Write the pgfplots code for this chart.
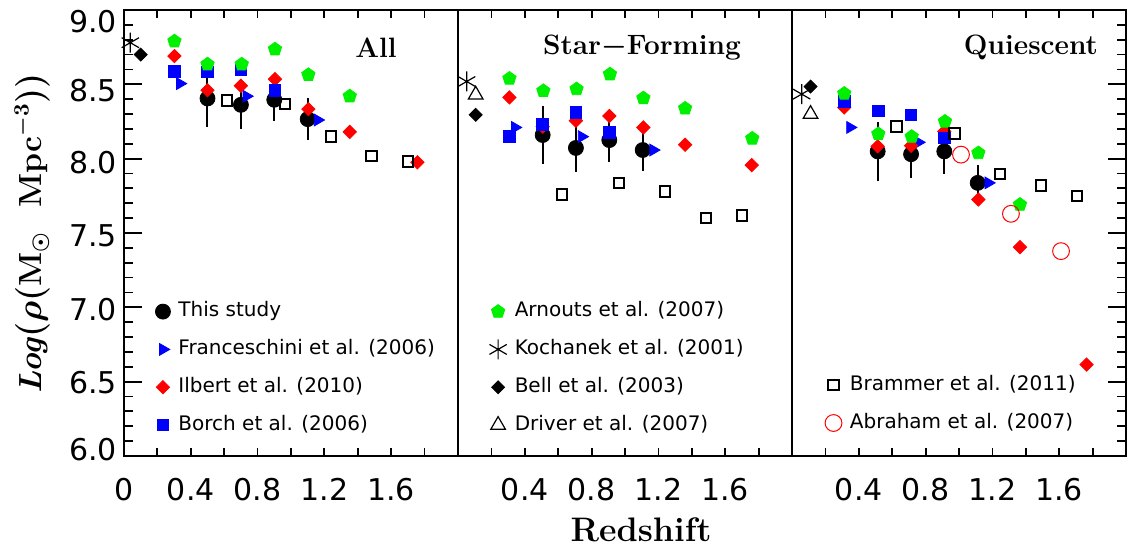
\documentclass[border=0pt]{standalone}
\usepackage{fontspec}
\usepackage{amsmath}
\usepackage{pgfplots}
\pgfplotsset{compat=1.18}
\newfontfamily\dvs{DejaVu Sans}
\definecolor{mygreen}{RGB}{0,240,0}
\definecolor{myred}{RGB}{255,0,0}
\definecolor{myblue}{RGB}{0,0,255}
\newcommand\yl[2]{\raisebox{#1}[\height][\depth]{#2}}
\pgfplotsset{
  panel/.style={
    scale only axis, width=167pt, height=223pt,
    xmin=0, xmax=2.0, ymin=6, ymax=9,
    axis line style={line width=1pt},
    tick style={line width=0.9pt, black},
    tick align=inside,
    xtick={0,0.2,0.4,0.6,0.8,1.0,1.2,1.4,1.6,1.8,2.0},
    xticklabels={,,0.4,,0.8,,1.2,,1.6,,},
    xtick pos=both,
    ytick={6,6.5,7,7.5,8,8.5,9},
    yticklabels={\yl{3pt}{6.0},\yl{-0.5pt}{6.5},\yl{-1pt}{7.0},\yl{-1.5pt}{7.5},\yl{-2pt}{8.0},\yl{-3pt}{8.5},\yl{-6pt}{9.0}},
    minor y tick num=4,
    major tick length=9pt, minor tick length=4.5pt,
    xtick style={/pgfplots/major tick length=4pt},
    xticklabel style={font=\dvs\fontsize{15}{15}\selectfont, yshift=-7.5pt},
    yticklabel style={font=\dvs\fontsize{15}{15}\selectfont},
    clip=false,
    legend style={draw=none, fill=none, anchor=north west,
      font=\dvs\fontsize{10}{12}\selectfont, row sep=8.9pt, column sep=4pt,
      nodes={inner sep=0pt, text height=7.5pt, text depth=2.5pt}},
    legend cell align=left,
    legend image code/.code={\draw[#1] plot coordinates {(0pt,0pt)};},
  },
  this/.style={only marks, mark=*, mark size=3.75pt, black,
    error bars/y dir=both, error bars/y explicit, error bars/error mark=none,
    error bars/error bar style={line width=1pt, black}},
  thisL/.style={only marks, mark=*, mark size=3.75pt, black},
  fran/.style={only marks, mark=triangle*, mark size=3.4pt, myblue, mark options={rotate=-90}},
  ilb/.style={only marks, mark=square*, mark size=2.35pt, myred, mark options={rotate=45}},
  bor/.style={only marks, mark=square*, mark size=2.9pt, myblue},
  arn/.style={only marks, mark=pentagon*, mark size=3.5pt, mygreen},
  koch/.style={only marks, mark=asterisk, mark size=5pt, black, mark options={line width=0.6pt}},
  bell/.style={only marks, mark=square*, mark size=2.3pt, black, mark options={rotate=45}},
  driv/.style={only marks, mark=triangle, mark size=4.2pt, black, mark options={line width=0.6pt}},
  bram/.style={only marks, mark=square, mark size=2.6pt, black, mark options={line width=1pt}},
  abr/.style={only marks, mark=o, mark size=4.2pt, myred, mark options={line width=0.5pt}},
}
\begin{document}
\begin{tikzpicture}
\path[use as bounding box] (0pt,0pt) rectangle (566pt,274.5pt);
% ---------------- Panel 1: All
\begin{axis}[panel, at={(62pt,46.5pt)}, anchor=south west,
  ytick pos=left,
  xticklabels={0,,0.4,,0.8,,1.2,,1.6,,},
  legend style={at={(0.075,0.356)}}]
\addplot[this, forget plot] coordinates {(0.50,8.405) +- (0,0.19) (0.70,8.362) +- (0,0.16) (0.90,8.396) +- (0,0.146) (1.10,8.266) +- (0,0.14)};
\addplot[fran, forget plot] coordinates {(0.335,8.505) (0.733,8.42) (1.160,8.26)};
\addplot[ilb, forget plot] coordinates {(0.302,8.69) (0.50,8.46) (0.70,8.49) (0.904,8.535) (1.104,8.333) (1.352,8.18) (1.757,7.975)};
\addplot[bor, forget plot] coordinates {(0.302,8.586) (0.50,8.584) (0.70,8.60) (0.904,8.46)};
\addplot[arn, forget plot] coordinates {(0.302,8.79) (0.50,8.635) (0.705,8.635) (0.904,8.736) (1.104,8.564) (1.352,8.42)};
\addplot[koch, forget plot] coordinates {(0.038,8.78)};
\addplot[bell, forget plot] coordinates {(0.10,8.70)};
\addplot[bram, forget plot] coordinates {(0.615,8.39) (0.964,8.367) (1.238,8.148) (1.483,8.018) (1.699,7.98)};
\addlegendimage{thisL}\addlegendentry{This study}
\addlegendimage{fran}\addlegendentry{Franceschini et al. (2006)}
\addlegendimage{ilb}\addlegendentry{Ilbert et al. (2010)}
\addlegendimage{bor}\addlegendentry{Borch et al. (2006)}
\node[font=\bfseries\fontsize{14}{14}\selectfont] at (axis cs:1.509,8.745) {All};
\node[rotate=90, font=\bfseries\fontsize{16}{16}\selectfont] at (axis description cs:-0.275,0.5)
  {\textit{Log}$\boldsymbol{(\rho(}$M$_{\boldsymbol{\odot}}$\ \ Mpc$^{\boldsymbol{-3}}$$\boldsymbol{))}$};
\end{axis}
% ---------------- Panel 2: Star-Forming
\begin{axis}[panel, at={(229pt,46.5pt)}, anchor=south west,
  ytick=\empty,
  legend style={at={(0.075,0.356)}}]
\addplot[this, forget plot] coordinates {(0.507,8.159) +- (0,0.195) (0.706,8.072) +- (0,0.16) (0.906,8.125) +- (0,0.145) (1.106,8.058) +- (0,0.14)};
\addplot[fran, forget plot] coordinates {(0.341,8.21) (0.741,8.148) (1.169,8.058)};
\addplot[ilb, forget plot] coordinates {(0.308,8.412) (0.507,8.215) (0.706,8.255) (0.906,8.287) (1.110,8.21) (1.360,8.094) (1.759,7.957)};
\addplot[bor, forget plot] coordinates {(0.308,8.148) (0.507,8.232) (0.706,8.311) (0.906,8.177)};
\addplot[arn, forget plot] coordinates {(0.308,8.539) (0.511,8.456) (0.710,8.468) (0.910,8.568) (1.110,8.407) (1.360,8.338) (1.762,8.136)};
\addplot[koch, forget plot] coordinates {(0.052,8.519)};
\addplot[driv, forget plot] coordinates {(0.106,8.43)};
\addplot[bell, forget plot] coordinates {(0.106,8.295)};
\addplot[bram, forget plot] coordinates {(0.621,7.758) (0.965,7.837) (1.240,7.779) (1.485,7.60) (1.702,7.617)};
\addlegendimage{arn}\addlegendentry{Arnouts et al. (2007)}
\addlegendimage{koch}\addlegendentry{Kochanek et al. (2001)}
\addlegendimage{bell}\addlegendentry{Bell et al. (2003)}
\addlegendimage{driv}\addlegendentry{Driver et al. (2007)}
\node[font=\bfseries\fontsize{14}{14}\selectfont] at (axis cs:1.102,8.745) {Star$\boldsymbol{-}$Forming};
\node[font=\bfseries\fontsize{17}{17}\selectfont] at (axis description cs:0.548,-0.165) {Redshift};
\end{axis}
% ---------------- Panel 3: Quiescent
\begin{axis}[panel, at={(396pt,46.5pt)}, anchor=south west,
  ytick pos=right, yticklabels={},
  legend style={at={(0.08,0.191)}}]
\addplot[this, forget plot] coordinates {(0.513,8.049) +- (0,0.197) (0.713,8.03) +- (0,0.16) (0.912,8.049) +- (0,0.149) (1.112,7.837) +- (0,0.12)};
\addplot[fran, forget plot] coordinates {(0.348,8.21) (0.757,8.11) (1.176,7.837)};
\addplot[ilb, forget plot] coordinates {(0.313,8.344) (0.513,8.083) (0.713,8.087) (0.912,8.183) (1.116,7.725) (1.365,7.405) (1.764,6.615)};
\addplot[bor, forget plot] coordinates {(0.313,8.385) (0.517,8.322) (0.713,8.295) (0.912,8.139)};
\addplot[arn, forget plot] coordinates {(0.313,8.438) (0.517,8.166) (0.717,8.148) (0.916,8.25) (1.116,8.038) (1.365,7.691)};
\addplot[koch, forget plot] coordinates {(0.058,8.434)};
\addplot[bell, forget plot] coordinates {(0.111,8.485)};
\addplot[driv, forget plot] coordinates {(0.111,8.30)};
\addplot[bram, forget plot] coordinates {(0.626,8.217) (0.972,8.17) (1.245,7.897) (1.491,7.819) (1.708,7.747)};
\addplot[abr, forget plot] coordinates {(1.012,8.027) (1.311,7.629) (1.611,7.378)};
\addlegendimage{bram}\addlegendentry{Brammer et al. (2011)}
\addlegendimage{abr}\addlegendentry{Abraham et al. (2007)}
\node[font=\bfseries\fontsize{14}{14}\selectfont] at (axis cs:1.431,8.745) {Quiescent};
\end{axis}
\end{tikzpicture}
\end{document}
